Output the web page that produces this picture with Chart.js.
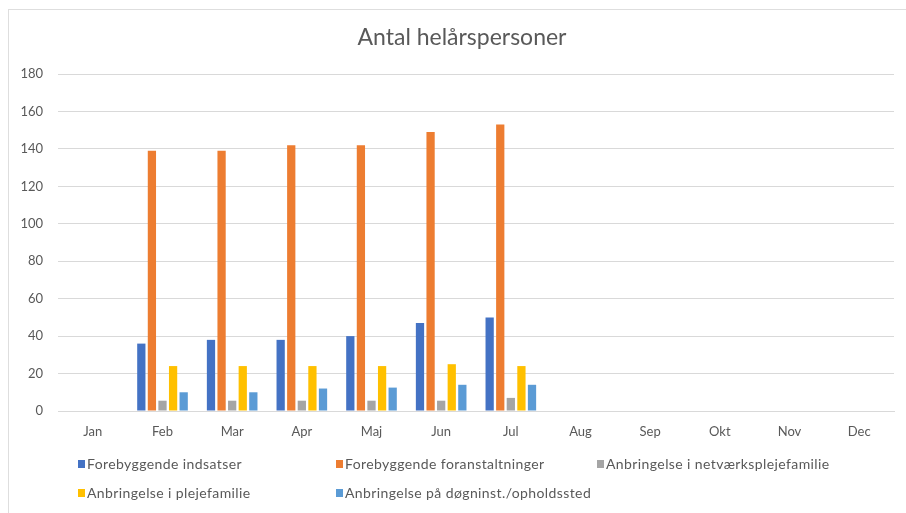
<!DOCTYPE html>
<html lang="da">
<head>
<meta charset="utf-8">
<title>Antal helårspersoner</title>
<script src="https://cdn.jsdelivr.net/npm/chart.js@4/dist/chart.umd.min.js"></script>
<style>
    html, body {
        margin: 0;
        padding: 0;
        background: #ffffff;
    }
    #wrap {
        position: relative;
        width: 906px;
        height: 513px;
    }
    #frame {
        position: absolute;
        left: 8px;
        top: 9px;
        right: 0;
        bottom: 0;
        border-left: 1.5px solid #dedede;
        border-top: 1.5px solid #dedede;
        pointer-events: none;
    }
    canvas {
        position: absolute;
        left: 0;
        top: 0;
    }
</style>
</head>
<body>
<div id="wrap">
    <canvas id="helaarChart" width="906" height="513"></canvas>
    <div id="frame"></div>
</div>
<script>
// Chart data
const chartTitle = 'Antal helårspersoner';
const months = ['Jan', 'Feb', 'Mar', 'Apr', 'Maj', 'Jun', 'Jul', 'Aug', 'Sep', 'Okt', 'Nov', 'Dec'];
const seriesNames = [
    'Forebyggende indsatser',
    'Forebyggende foranstaltninger',
    'Anbringelse i netværksplejefamilie',
    'Anbringelse i plejefamilie',
    'Anbringelse på døgninst./opholdssted'
];
const seriesColors = ['#4472C4', '#ED7D31', '#A5A5A5', '#FFC000', '#5B9BD5'];

const forebyggendeIndsatser = [null, 36, 38, 38, 40, 47, 50, null, null, null, null, null];
const forebyggendeForanstaltninger = [null, 139, 139, 142, 142, 149, 153, null, null, null, null, null];
const netvaerksplejefamilie = [null, 5.5, 5.5, 5.5, 5.5, 5.5, 7, null, null, null, null, null];
const plejefamilie = [null, 24, 24, 24, 24, 25, 24, null, null, null, null, null];
const doegninstitution = [null, 10, 10, 12, 12.5, 14, 14, null, null, null, null, null];

const yTicks = [0, 20, 40, 60, 80, 100, 120, 140, 160, 180];

const textColor = '#595959';
const gridColor = '#d9d9d9';
const fontFamily = "Lato, 'Open Sans', sans-serif";

// Title and legend drawn by hand so they sit where the original has them
const titleAndLegend = {
    id: 'titleAndLegend',
    afterDraw(chart) {
        const ctx = chart.ctx;
        ctx.save();

        // title
        ctx.font = '23px ' + fontFamily;
        ctx.fillStyle = textColor;
        ctx.textAlign = 'center';
        ctx.textBaseline = 'middle';
        ctx.fillText(chartTitle, 462, 38);

        // legend, fixed 3-column grid
        const cols = [78, 336, 597];
        const rows = [464, 493];
        ctx.font = '14px ' + fontFamily;
        ctx.letterSpacing = '0.4px';
        ctx.textAlign = 'left';
        chart.data.datasets.forEach(function (ds, i) {
            const x = cols[i % 3];
            const y = rows[Math.floor(i / 3)];
            ctx.fillStyle = ds.backgroundColor;
            ctx.fillRect(x, y - 4, 7, 8);
            ctx.fillStyle = textColor;
            ctx.fillText(ds.label, x + 9, y);
        });
        ctx.restore();
    }
};

function initChart() {
    const ctx = document.getElementById('helaarChart');
    if (!ctx) return;

    const values = [
        forebyggendeIndsatser,
        forebyggendeForanstaltninger,
        netvaerksplejefamilie,
        plejefamilie,
        doegninstitution
    ];

    const datasets = seriesNames.map(function (name, i) {
        return {
            label: name,
            data: values[i],
            backgroundColor: seriesColors[i],
            borderWidth: 0,
            categoryPercentage: 0.76,
            barPercentage: 0.78
        };
    });

    new Chart(ctx, {
        type: 'bar',
        data: {
            labels: months,
            datasets: datasets
        },
        options: {
            responsive: false,
            animation: false,
            layout: {
                padding: { left: 0, right: 12, top: 74, bottom: 72 }
            },
            plugins: {
                legend: { display: false },
                tooltip: { enabled: false },
                title: { display: false }
            },
            scales: {
                x: {
                    grid: { display: false, drawTicks: false },
                    border: { display: true, color: gridColor, width: 1 },
                    ticks: {
                        color: textColor,
                        padding: 13,
                        font: { size: 13, family: fontFamily }
                    },
                    afterFit: function (scale) {
                        scale.height = 30;
                    }
                },
                y: {
                    min: 0,
                    max: 180,
                    afterBuildTicks: function (scale) {
                        scale.ticks = yTicks.map(function (v) { return { value: v }; });
                    },
                    grid: { color: gridColor, drawTicks: false },
                    border: { display: false },
                    ticks: {
                        color: textColor,
                        padding: 15,
                        font: { size: 13, family: fontFamily }
                    },
                    afterFit: function (scale) {
                        scale.width = 58;
                    }
                }
            }
        },
        plugins: [titleAndLegend]
    });
}

initChart();
</script>
</body>
</html>
